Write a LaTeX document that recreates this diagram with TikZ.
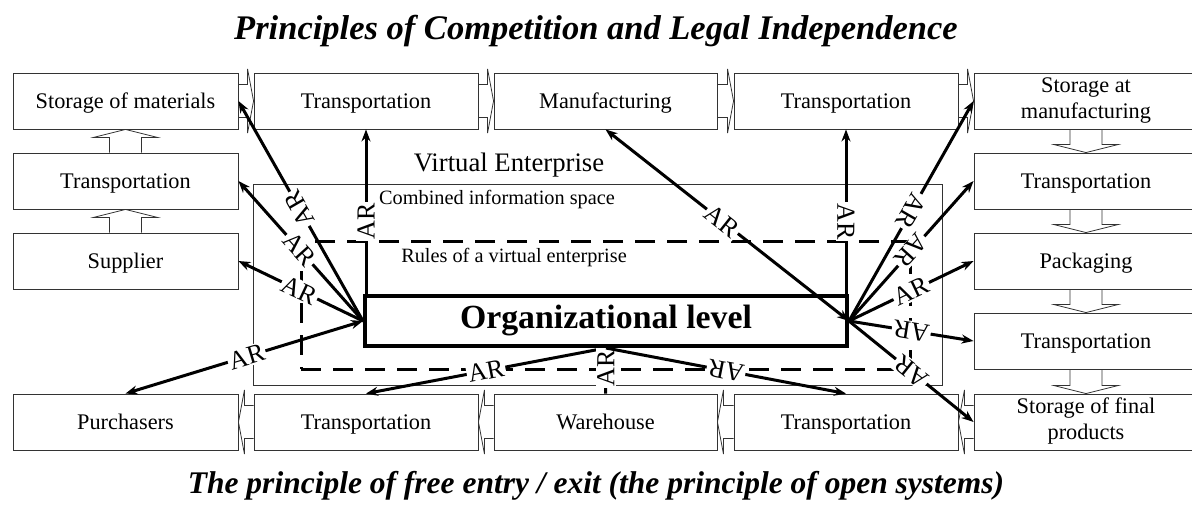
\documentclass[tikz,border=0pt]{standalone}
\usepackage{fontspec}
\setmainfont{Liberation Serif}
\usetikzlibrary{arrows.meta,calc}

\newcommand{\boxstrut}{\rule[-5.8pt]{0pt}{26pt}}

\tikzset{
  box/.style={draw=black!80, line width=0.9pt, minimum width=224pt, minimum height=56pt, inner sep=0pt, align=center,
    font=\fontsize{22.3}{26}\selectfont, execute at begin node=\boxstrut, execute at end node=\boxstrut},
  hollow/.style={draw=black!80, line width=0.8pt},
  link/.style={line width=3pt, -{Stealth[length=12pt,width=9pt]}},
  twoway/.style={line width=3pt, {Stealth[length=12pt,width=9pt]}-{Stealth[length=12pt,width=9pt]}},
  ar/.style={fill=white, inner sep=1.5pt, font=\fontsize{26}{26}\selectfont},
}

\newcommand{\flowright}[2]{\draw [hollow] let \p1=(#1.east), \p2=(#2.west) in
  (\x1,\y1+16.5pt) -- (\x2-6pt,\y1+16.5pt) -- (\x2-6pt,\y1+32pt) -- (\x2,\y1)
  -- (\x2-6pt,\y1-32pt) -- (\x2-6pt,\y1-16.5pt) -- (\x1,\y1-16.5pt);}
\newcommand{\flowleft}[2]{\draw [hollow] let \p1=(#1.west), \p2=(#2.east) in
  (\x1,\y1+16.5pt) -- (\x2+6pt,\y1+16.5pt) -- (\x2+6pt,\y1+32pt) -- (\x2,\y1)
  -- (\x2+6pt,\y1-32pt) -- (\x2+6pt,\y1-16.5pt) -- (\x1,\y1-16.5pt);}
\newcommand{\flowup}[2]{\draw [hollow] let \p1=(#1.north), \p2=(#2.south) in
  (\x1-16pt,\y1) -- (\x1-16pt,\y2-8pt) -- (\x1-32pt,\y2-8pt) -- (\x1,\y2)
  -- (\x1+32pt,\y2-8pt) -- (\x1+16pt,\y2-8pt) -- (\x1+16pt,\y1);}
\newcommand{\flowdown}[2]{\draw [hollow] let \p1=(#1.south), \p2=(#2.north) in
  (\x1-16pt,\y1) -- (\x1-16pt,\y2+8pt) -- (\x1-32pt,\y2+8pt) -- (\x1,\y2)
  -- (\x1+32pt,\y2+8pt) -- (\x1+16pt,\y2+8pt) -- (\x1+16pt,\y1);}

\begin{document}
\begin{tikzpicture}[x=1pt, y=-1pt]
\useasboundingbox (0,0) rectangle (1192,524);

\node [font=\bfseries\itshape\fontsize{34.5}{38}\selectfont] (toptitle) at (596,31) {Principles of Competition and Legal Independence};
\node [font=\bfseries\itshape\fontsize{31.5}{36}\selectfont] (bottomtitle) at (596,486) {The principle of free entry / exit (the principle of open systems)};

\node [box, minimum width=225pt] (som) at (125.5,101) {Storage of materials};
\node [box, minimum width=225pt] (tl2) at (125.5,181) {Transportation};
\node [box, minimum width=225pt] (sup) at (125.5,261) {Supplier};
\node [box, minimum width=225pt] (pur) at (125.5,422) {Purchasers};
\node [box] (tt2) at (366,101) {Transportation};
\node [box, minimum width=223pt] (man) at (605.5,101) {Manufacturing};
\node [box] (tt4) at (846,101) {Transportation};
\node [box] (sam) at (1086,101) {Storage at\\manufacturing};
\node [box] (tr2) at (1086,181) {Transportation};
\node [box] (pac) at (1086,261) {Packaging};
\node [box] (tr4) at (1086,341) {Transportation};
\node [box] (sfp) at (1086,422) {Storage of final\\products};
\node [box] (tb4) at (846,422) {Transportation};
\node [box, minimum width=223pt] (war) at (605.5,422) {Warehouse};
\node [box] (tb2) at (366,422) {Transportation};

\flowup{sup}{tl2}
\flowup{tl2}{som}
\flowright{som}{tt2}
\flowright{tt2}{man}
\flowright{man}{tt4}
\flowright{tt4}{sam}
\flowdown{sam}{tr2}
\flowdown{tr2}{pac}
\flowdown{pac}{tr4}
\flowdown{tr4}{sfp}
\flowleft{sfp}{tb4}
\flowleft{tb4}{war}
\flowleft{war}{tb2}
\flowleft{tb2}{pur}

\node [draw=black!80, line width=1pt, minimum width=689pt, minimum height=200pt] (ve) at (597.5,285) {};
\node [font=\fontsize{26.7}{30}\selectfont] (vetitle) at (509,165) {Virtual Enterprise};
\node [font=\fontsize{20.3}{24}\selectfont] (space) at (497,200) {Combined information space};
\node [draw, line width=3pt, dash pattern=on 20pt off 12pt, minimum width=609pt, minimum height=128pt] (rules) at (605.5,305) {};
\node [font=\fontsize{20.3}{24}\selectfont] (rulestext) at (514,258) {Rules of a virtual enterprise};
\node [draw, line width=4pt, minimum width=482pt, minimum height=50pt, font=\bfseries\fontsize{33.8}{36}\selectfont] (org) at (606,321) {Organizational level};

\draw [link] (org.west) -- node [ar, pos=0.51, rotate=120] {AR} (som.east);
\draw [link] (org.west) -- node [ar, pos=0.51, rotate=-48] {AR} (tl2.east);
\draw [link] (org.west) -- node [ar, pos=0.51, rotate=-25.3] {AR} (sup.east);
\draw [twoway] (org.west) -- node [ar, pos=0.49, rotate=17] {AR} (pur.north);
\draw [link] (tt2.south |- org.north) -- node [ar, pos=0.44, rotate=90] {AR} (tt2.south);

\draw [twoway] (org.east) -- node [ar, pos=0.52, rotate=-38.5] {AR} (man.south);
\draw [link] (tt4.south |- org.north) -- node [ar, pos=0.44, rotate=-90] {AR} (tt4.south);
\draw [link] (org.east) -- node [ar, pos=0.5, rotate=-120] {AR} (sam.west);
\draw [link] (org.east) -- node [ar, pos=0.5, rotate=-132] {AR} (tr2.west);
\draw [link] (org.east) -- node [ar, pos=0.5, rotate=25.3] {AR} (pac.west);
\draw [link] (org.east) -- node [ar, pos=0.5, rotate=171] {AR} (tr4.west);
\draw [link] (org.east) -- node [ar, pos=0.5, rotate=141.5] {AR} (sfp.west);

\draw [link] (org.south) -- node [ar, pos=0.5, rotate=11.3] {AR} (tb2.north);
\draw [line width=3pt] (org.south) -- node [ar, pos=0.44, rotate=90] {AR} (war.north);
\draw [link] (org.south) -- node [ar, pos=0.5, rotate=168.7] {AR} (tb4.north);
\end{tikzpicture}
\end{document}
